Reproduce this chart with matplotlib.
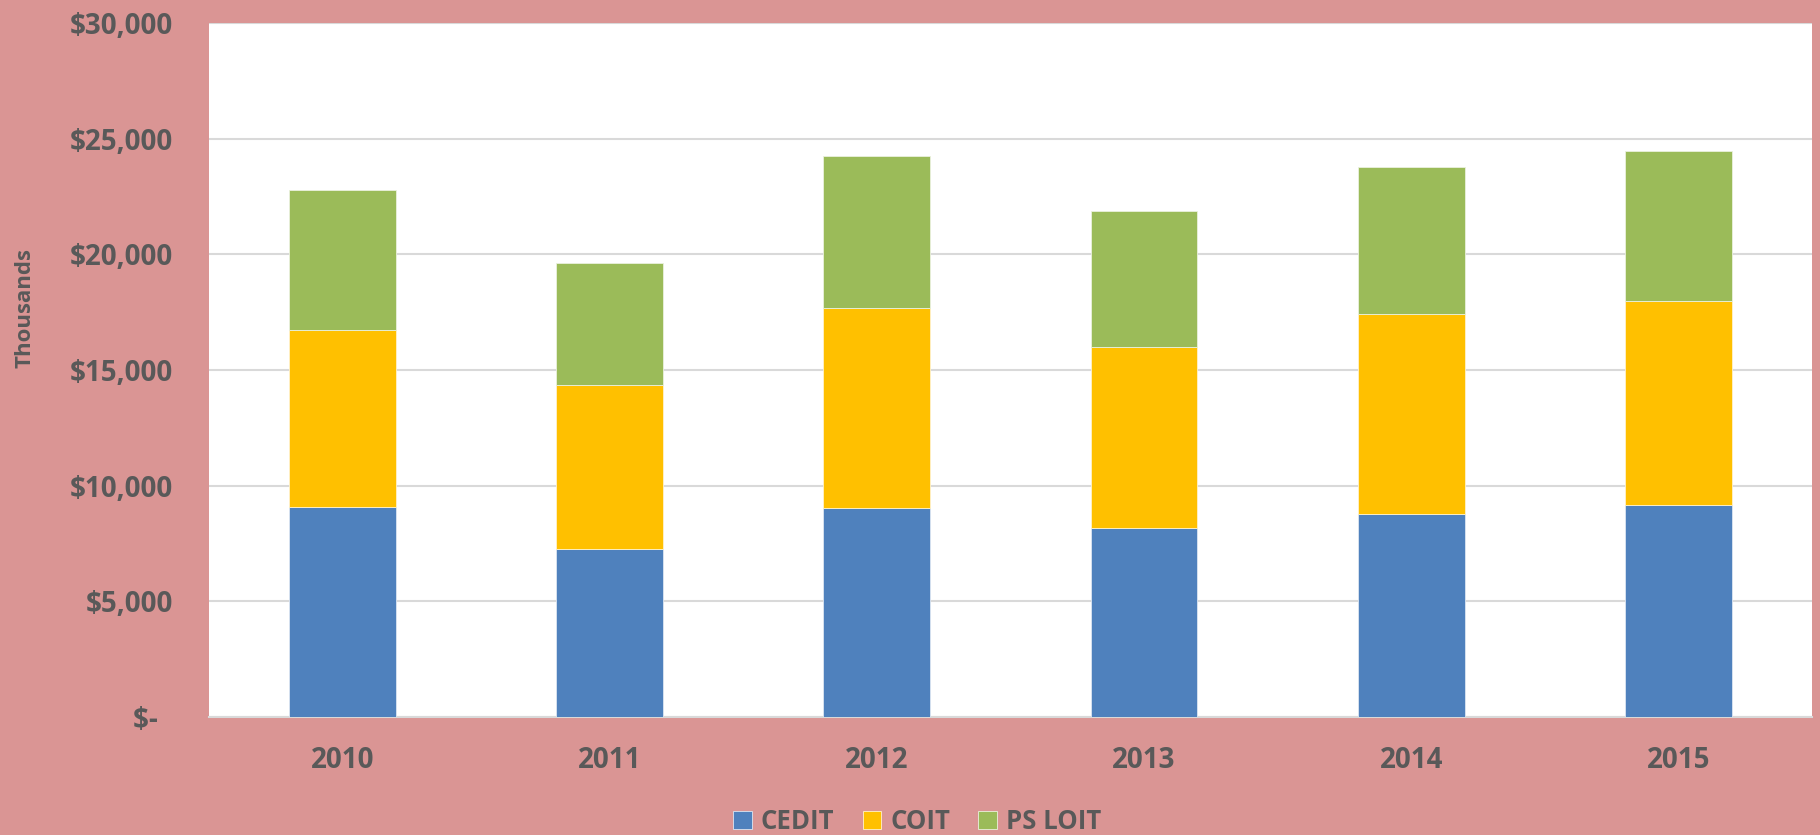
import matplotlib.pyplot as plt
import numpy as np
from matplotlib.ticker import FuncFormatter

years = ['2010', '2011', '2012', '2013', '2014', '2015']
cedit = [9060, 7260, 9050, 8150, 8760, 9150]
coit = [7650, 7110, 8610, 7830, 8650, 8850]
ps_loit = [6060, 5270, 6600, 5890, 6360, 6450]

blue = '#4F81BD'
yellow = '#FFC000'
green = '#9BBB59'
bg = '#DA9594'
text_col = '#595959'

plt.rcParams['font.family'] = ['Open Sans', 'DejaVu Sans']
plt.rcParams['font.weight'] = 'bold'

fig = plt.figure(figsize=(18.2, 8.35), dpi=100, facecolor=bg)
ax = fig.add_axes([0.1148, 0.1413, 0.8808, 0.8312])
ax.set_facecolor('white')

x = np.arange(len(years))
cedit = np.array(cedit)
coit = np.array(coit)
ps_loit = np.array(ps_loit)
w = 0.4

ax.bar(x, cedit, width=w, color=blue, edgecolor='#DCE6F2', linewidth=0.6, label='CEDIT', zorder=3)
ax.bar(x, coit, width=w, bottom=cedit, color=yellow, edgecolor='#FFF2CC', linewidth=0.6, label='COIT', zorder=3)
ax.bar(x, ps_loit, width=w, bottom=cedit + coit, color=green, edgecolor='#EBF1DE', linewidth=0.6, label='PS LOIT', zorder=3)

ax.set_xlim(-0.5, len(years) - 0.5)
ax.set_ylim(0, 30000)
ax.set_yticks(np.arange(0, 30001, 5000))
# accounting style: zero shown as a dash, a bit in from the right edge
ax.yaxis.set_major_formatter(FuncFormatter(lambda v, p: '$-  ' if v == 0 else '${:,.0f}'.format(v)))
ax.set_xticks(x)
ax.set_xticklabels(years)

ax.yaxis.grid(True, color='#D9D9D9', linewidth=1.5, zorder=0)
ax.xaxis.grid(False)
for s in ['top', 'right', 'left']:
    ax.spines[s].set_visible(False)
ax.spines['bottom'].set_color('#D9D9D9')
ax.spines['bottom'].set_linewidth(1.5)

ax.tick_params(axis='y', length=0, pad=26, labelsize=20, labelcolor=text_col)
ax.tick_params(axis='x', length=0, pad=21, labelsize=20, labelcolor=text_col)

fig.text(0.0137, 0.631, 'Thousands', rotation=90, ha='center', va='center',
         fontsize=16, fontweight='bold', color=text_col)

leg = fig.legend(loc='center', bbox_to_anchor=(0.504, 0.016), ncol=3, frameon=False,
                 fontsize=18.5, handlelength=0.72, handleheight=0.72,
                 handletextpad=0.36, columnspacing=1.1, borderpad=0)
for t in leg.get_texts():
    t.set_color(text_col)
    t.set_fontweight('bold')

fig.savefig('out.png', dpi=100, facecolor=bg)
